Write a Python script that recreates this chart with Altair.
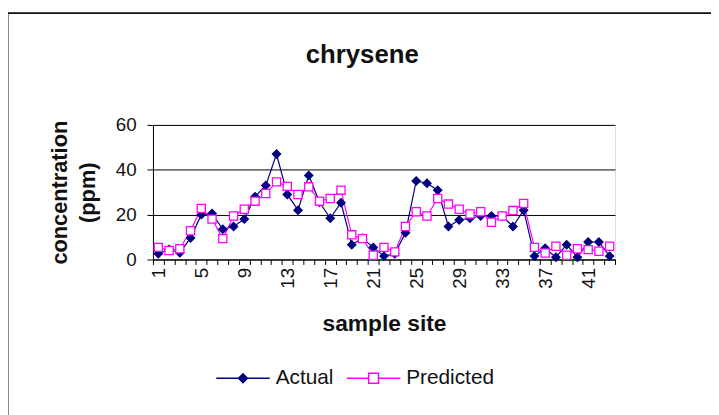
import altair as alt
import pandas as pd

# ---- data ----
sites = list(range(1, 44))
actual = [2.6, 4.5, 3.0, 9.6, 20.0, 20.5, 13.5, 14.7, 18.0, 28.0, 33.0, 47.0, 29.0,
          22.0, 37.5, 25.5, 18.4, 25.3, 6.6, 9.5, 5.4, 1.5, 2.5, 11.9, 35.0, 34.0,
          30.9, 14.7, 17.6, 18.4, 19.4, 19.4, 19.4, 14.7, 22.0, 1.5, 5.0, 1.0, 6.6,
          1.0, 7.8, 7.8, 1.5]
predicted = [5.4, 4.0, 4.8, 12.8, 22.8, 18.0, 9.3, 19.4, 22.4, 26.0, 29.4, 34.6, 32.6,
             29.0, 32.4, 26.0, 27.2, 30.9, 11.0, 9.3, 1.9, 5.4, 3.4, 14.7, 21.3, 19.4,
             27.2, 24.7, 22.4, 20.3, 21.3, 16.6, 19.4, 21.8, 25.0, 5.4, 2.9, 5.9, 1.9,
             4.8, 4.4, 3.7, 5.9]
series_names = ["Actual", "Predicted"]
y_ticks = [0, 20, 40, 60]
label_every = 4

NAVY = "#000080"
MAGENTA = "#FF00FF"
FONT = "Liberation Sans"

W, H = 467, 136

df = pd.DataFrame({
    "site": sites * 2,
    "value": actual + predicted,
    "series": [series_names[0]] * len(sites) + [series_names[1]] * len(sites),
})
boundaries = [s - 0.5 for s in sites] + [sites[-1] + 0.5]
half_band = W / len(sites) / 2

xscale = alt.Scale(domain=[sites[0] - 0.5, sites[-1] + 0.5], nice=False, zero=False)
yscale = alt.Scale(domain=[y_ticks[0], y_ticks[-1]], nice=False)

x_axis = alt.Axis(
    values=boundaries,
    labelExpr=f"((datum.value - 0.5) % {label_every} == 0 && datum.value < {sites[-1]}) ? format(datum.value + 0.5, 'd') : ''",
    labelOffset=half_band, labelAngle=270, labelFlush=False, labelOverlap=False,
    labelBound=False, labelFontSize=19, labelFont=FONT, labelColor="#111",
    labelPadding=3, tickSize=5, tickColor="black", domainColor="black", grid=False,
    title="sample site", titleFontSize=23, titleFontWeight="bold", titleFont=FONT,
    titleColor="#111", titlePadding=25,
)
y_axis = alt.Axis(
    values=y_ticks, grid=True, gridColor="black", gridWidth=1,
    domainColor="black", tickColor="black", tickSize=6,
    labelFontSize=19, labelFont=FONT, labelColor="#111", labelPadding=11,
    title=["concentration", "(ppm)"], titleFontSize=22, titleFontWeight="bold",
    titleFont=FONT, titleColor="#111", titleLineHeight=28, titlePadding=16,
)

base = alt.Chart(df)
x_enc = alt.X("site:Q", scale=xscale, axis=x_axis)
y_enc = alt.Y("value:Q", scale=yscale, axis=y_axis)

lines = base.mark_line(strokeWidth=1.2).encode(
    x=x_enc, y=y_enc,
    color=alt.Color("series:N", scale=alt.Scale(domain=series_names, range=[NAVY, MAGENTA]), legend=None),
    detail="series:N",
)

points = base.mark_point(filled=True, opacity=1, size=68, strokeWidth=1.3).encode(
    x=x_enc, y=y_enc,
    shape=alt.Shape("series:N", scale=alt.Scale(domain=series_names, range=["diamond", "square"]), legend=None),
    fill=alt.Fill("series:N", scale=alt.Scale(domain=series_names, range=[NAVY, "white"]), legend=None),
    stroke=alt.Stroke("series:N", scale=alt.Scale(domain=series_names, range=[NAVY, MAGENTA]), legend=None),
)

# legend symbols: line with marker
SYM = 54
d = 4.5 / (SYM / 2)
q = 5.0 / (SYM / 2)
path_actual = f"M-1,0L{-d:.3f},0M{-d:.3f},0L0,{-d:.3f}L{d:.3f},0L0,{d:.3f}ZM{d:.3f},0L1,0"
path_pred = f"M-1,0L{-q:.3f},0M{-q:.3f},{-q:.3f}L{q:.3f},{-q:.3f}L{q:.3f},{q:.3f}L{-q:.3f},{q:.3f}ZM{q:.3f},0L1,0"

leg_common = dict(
    title=None, orient="none", legendX=63, legendY=228, direction="horizontal",
    symbolSize=SYM * SYM, symbolStrokeWidth=1.5, labelFontSize=21, labelFont=FONT,
    labelColor="#111", labelOffset=5, columnPadding=10, padding=0,
)
legend_df = pd.DataFrame({"series": series_names})
legend_layer = alt.Chart(legend_df).mark_point(
    filled=True, opacity=1, size=SYM * SYM, strokeWidth=1.5, clip=True
).encode(
    x=alt.value(-3000), y=alt.value(-3000),
    shape=alt.Shape("series:N", scale=alt.Scale(domain=series_names, range=[path_actual, path_pred]), legend=alt.Legend(**leg_common)),
    fill=alt.Fill("series:N", scale=alt.Scale(domain=series_names, range=[NAVY, "white"]), legend=alt.Legend(**leg_common)),
    stroke=alt.Stroke("series:N", scale=alt.Scale(domain=series_names, range=[NAVY, MAGENTA]), legend=alt.Legend(**leg_common)),
)

frame_df = pd.DataFrame({"f": [0]})
frame = alt.Chart(frame_df).mark_rect(fillOpacity=0, stroke="#111", strokeWidth=2, clip=False).encode(
    x=alt.value(-147), x2=alt.value(W + 200), y=alt.value(-113), y2=alt.value(H + 300)
)

chart = alt.layer(frame, lines, points, legend_layer).resolve_scale(
    shape="independent", fill="independent", stroke="independent", color="independent"
).properties(
    width=W, height=H,
    title=alt.TitleParams("chrysene", fontSize=26, fontWeight="bold", font=FONT,
                          color="#111", anchor="middle", dx=-22, offset=-56),
    autosize=alt.AutoSizeParams(type="none"),
    padding={"left": 146.5, "top": 116, "right": 97, "bottom": 155},
).configure_view(stroke="#808080", strokeWidth=1.2).configure(background="white")

chart.save("out.html", embed_options={"renderer": "svg", "actions": False})
